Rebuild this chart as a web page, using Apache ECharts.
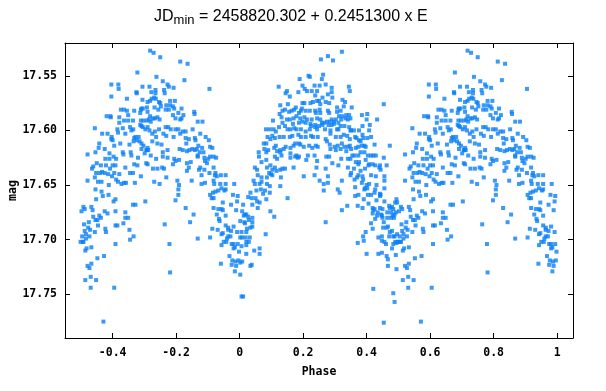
<!DOCTYPE html>
<html>
<head>
<meta charset="utf-8">
<script src="https://cdn.jsdelivr.net/npm/echarts@6/dist/echarts.min.js"></script>
<style>
html,body{margin:0;padding:0;background:#fff;}
#chart{width:606px;height:391px;}
</style>
</head>
<body>
<div id="chart"></div>
<script>
// Phase -0.5 .. 0 (shown again one cycle later, 0.5 .. 1.0, as in the reference)
const obsNegPhase = [
[-0.282,17.527],[-0.271,17.529],[-0.250,17.533],[-0.187,17.537],[-0.164,17.539],[-0.322,17.547],[-0.262,17.551],[-0.174,17.554],[-0.095,17.562],[-0.404,17.558],
[-0.382,17.558],[-0.381,17.562],[-0.404,17.569],[-0.242,17.555],[-0.227,17.558],[-0.223,17.560],[-0.208,17.561],[-0.284,17.560],[-0.306,17.560],[-0.325,17.565],
[-0.324,17.566],[-0.278,17.565],[-0.265,17.563],[-0.265,17.566],[-0.236,17.566],[-0.238,17.563],[-0.355,17.571],[-0.306,17.572],[-0.277,17.571],[-0.269,17.570],
[-0.264,17.571],[-0.254,17.574],[-0.250,17.575],[-0.290,17.574],[-0.282,17.573],[-0.219,17.573],[-0.204,17.573],[-0.248,17.578],[-0.231,17.577],[-0.219,17.577],
[-0.210,17.578],[-0.223,17.581],[-0.206,17.580],[-0.183,17.580],[-0.233,17.581],[-0.419,17.587],[-0.407,17.587],[-0.406,17.588],[-0.374,17.581],[-0.364,17.581],
[-0.355,17.582],[-0.351,17.586],[-0.332,17.582],[-0.309,17.580],[-0.311,17.581],[-0.305,17.580],[-0.292,17.579],[-0.290,17.583],[-0.313,17.584],[-0.282,17.587],
[-0.268,17.579],[-0.256,17.581],[-0.143,17.583],[-0.142,17.585],[-0.177,17.586],[-0.193,17.584],[-0.210,17.586],[-0.202,17.589],[-0.336,17.591],[-0.351,17.591],
[-0.379,17.593],[-0.379,17.588],[-0.364,17.591],[-0.311,17.591],[-0.303,17.591],[-0.292,17.591],[-0.313,17.595],[-0.309,17.596],[-0.286,17.590],[-0.280,17.592],
[-0.273,17.589],[-0.267,17.589],[-0.259,17.588],[-0.252,17.590],[-0.187,17.590],[-0.183,17.589],[-0.132,17.592],[-0.117,17.592],[-0.456,17.598],[-0.433,17.603],
[-0.416,17.603],[-0.403,17.606],[-0.404,17.608],[-0.385,17.599],[-0.383,17.602],[-0.368,17.598],[-0.360,17.603],[-0.345,17.597],[-0.341,17.600],[-0.335,17.599],
[-0.332,17.607],[-0.324,17.609],[-0.328,17.606],[-0.318,17.606],[-0.305,17.597],[-0.297,17.599],[-0.290,17.597],[-0.284,17.600],[-0.275,17.603],[-0.267,17.601],
[-0.263,17.606],[-0.254,17.599],[-0.240,17.603],[-0.233,17.597],[-0.231,17.605],[-0.225,17.597],[-0.217,17.599],[-0.208,17.606],[-0.202,17.599],[-0.193,17.599],
[-0.187,17.603],[-0.179,17.601],[-0.170,17.601],[-0.170,17.607],[-0.168,17.612],[-0.160,17.608],[-0.148,17.599],[-0.141,17.607],[-0.124,17.603],[-0.107,17.606],
[-0.097,17.609],[-0.139,17.609],[-0.130,17.614],[-0.135,17.617],[-0.118,17.616],[-0.093,17.615],[-0.086,17.616],[-0.400,17.609],[-0.395,17.614],[-0.376,17.612],
[-0.347,17.613],[-0.334,17.610],[-0.315,17.610],[-0.309,17.612],[-0.303,17.614],[-0.290,17.616],[-0.294,17.618],[-0.288,17.618],[-0.309,17.617],[-0.275,17.610],
[-0.259,17.612],[-0.246,17.613],[-0.242,17.620],[-0.227,17.618],[-0.189,17.617],[-0.179,17.618],[-0.166,17.619],[-0.158,17.618],[-0.149,17.617],[-0.141,17.618],
[-0.132,17.623],[-0.126,17.620],[-0.114,17.620],[-0.093,17.624],[-0.082,17.624],[-0.074,17.625],[-0.479,17.622],[-0.454,17.620],[-0.444,17.616],[-0.442,17.612],
[-0.425,17.617],[-0.410,17.621],[-0.410,17.626],[-0.397,17.624],[-0.389,17.626],[-0.368,17.620],[-0.366,17.622],[-0.343,17.620],[-0.341,17.623],[-0.320,17.625],
[-0.299,17.621],[-0.292,17.618],[-0.280,17.623],[-0.263,17.626],[-0.242,17.624],[-0.227,17.625],[-0.206,17.626],[-0.202,17.628],[-0.210,17.631],[-0.191,17.627],
[-0.166,17.630],[-0.154,17.629],[-0.132,17.624],[-0.111,17.625],[-0.109,17.628],[-0.099,17.626],[-0.103,17.630],[-0.461,17.633],[-0.465,17.635],[-0.450,17.630],
[-0.437,17.632],[-0.423,17.626],[-0.421,17.632],[-0.408,17.635],[-0.400,17.632],[-0.391,17.632],[-0.360,17.634],[-0.332,17.631],[-0.322,17.632],[-0.294,17.630],
[-0.290,17.631],[-0.273,17.635],[-0.259,17.635],[-0.244,17.634],[-0.238,17.635],[-0.160,17.634],[-0.124,17.634],[-0.111,17.636],[-0.082,17.634],[-0.076,17.639],
[-0.452,17.639],[-0.440,17.639],[-0.433,17.638],[-0.425,17.639],[-0.414,17.640],[-0.402,17.642],[-0.395,17.639],[-0.379,17.640],[-0.345,17.639],[-0.336,17.639],
[-0.311,17.642],[-0.231,17.643],[-0.166,17.637],[-0.128,17.636],[-0.120,17.641],[-0.095,17.639],[-0.078,17.641],[-0.072,17.642],[-0.059,17.641],[-0.044,17.641],
[-0.479,17.646],[-0.456,17.643],[-0.446,17.647],[-0.435,17.647],[-0.412,17.650],[-0.389,17.645],[-0.383,17.647],[-0.372,17.649],[-0.364,17.648],[-0.358,17.648],
[-0.330,17.648],[-0.269,17.647],[-0.252,17.649],[-0.196,17.646],[-0.191,17.650],[-0.151,17.646],[-0.120,17.649],[-0.109,17.648],[-0.082,17.646],[-0.080,17.649],
[-0.061,17.649],[-0.044,17.649],[-0.017,17.649],
[-0.454,17.654],[-0.435,17.656],[-0.452,17.663],[-0.431,17.660],[-0.413,17.659],[-0.397,17.665],[-0.391,17.663],[-0.297,17.665],[-0.336,17.668],[-0.328,17.668],
[-0.498,17.674],[-0.492,17.670],[-0.488,17.672],[-0.467,17.670],[-0.463,17.673],[-0.425,17.674],[-0.416,17.676],[-0.391,17.674],[-0.360,17.675],[-0.461,17.679],
[-0.454,17.682],[-0.448,17.682],[-0.442,17.678],[-0.437,17.680],[-0.446,17.687],[-0.490,17.686],[-0.475,17.684],[-0.471,17.691],[-0.477,17.689],[-0.423,17.690],
[-0.421,17.693],[-0.366,17.685],[-0.360,17.680],[-0.351,17.680],[-0.347,17.691],[-0.391,17.687],[-0.385,17.687],[-0.334,17.697],[-0.345,17.700],[-0.488,17.692],
[-0.484,17.695],[-0.496,17.697],[-0.473,17.697],[-0.456,17.693],[-0.501,17.702],[-0.494,17.702],[-0.492,17.702],[-0.484,17.699],[-0.482,17.708],[-0.486,17.710],
[-0.467,17.707],[-0.448,17.717],[-0.427,17.715],[-0.391,17.704],[-0.479,17.724],[-0.473,17.726],[-0.467,17.722],[-0.486,17.737],[-0.469,17.734],[-0.452,17.737],
[-0.469,17.744],[-0.395,17.744],[-0.429,17.775],[-0.236,17.686],[-0.221,17.704],[-0.219,17.730],[-0.202,17.664],[-0.193,17.654],[-0.193,17.659],[-0.170,17.671],
[-0.145,17.677],[-0.156,17.684],[-0.132,17.699],[-0.093,17.659],[-0.088,17.662],[-0.082,17.662],[-0.084,17.657],[-0.076,17.656],[-0.067,17.655],[-0.057,17.653],
[-0.048,17.655],[-0.044,17.654],[-0.082,17.671],[-0.072,17.677],[-0.065,17.681],[-0.067,17.672],[-0.057,17.672],[-0.053,17.666],[-0.053,17.673],[-0.044,17.678],
[-0.063,17.683],[-0.086,17.690],[-0.069,17.691],[-0.093,17.698],[-0.057,17.695],[-0.053,17.694],[-0.044,17.687],[-0.036,17.689],[-0.036,17.691],[-0.040,17.699],
[-0.036,17.697],[-0.029,17.697],[-0.027,17.692],[-0.019,17.688],[-0.021,17.659],[-0.006,17.660],[-0.027,17.668],[-0.008,17.665],[-0.011,17.673],[-0.042,17.702],
[-0.050,17.702],[-0.057,17.705],[-0.025,17.704],[-0.019,17.704],[-0.019,17.708],[-0.006,17.704],[-0.015,17.707],[-0.032,17.715],[-0.023,17.719],[-0.025,17.723],
[-0.013,17.720],[-0.011,17.724],[-0.015,17.729],[-0.059,17.722],[-0.002,17.711],[-0.004,17.719],[-0.008,17.693]
];
// Phase 0 .. 0.5
const obsPosPhase = [
[0.322,17.528],[0.278,17.532],[0.294,17.536],[0.256,17.535],[0.123,17.560],[0.189,17.553],[0.217,17.550],[0.221,17.551],[0.198,17.559],[0.236,17.559],
[0.252,17.559],[0.263,17.549],[0.259,17.553],[0.271,17.558],[0.290,17.561],[0.290,17.565],[0.344,17.560],[0.347,17.564],[0.145,17.566],[0.149,17.564],
[0.185,17.565],[0.205,17.562],[0.212,17.564],[0.227,17.564],[0.244,17.564],[0.238,17.568],[0.261,17.570],[0.278,17.567],[0.292,17.570],[0.324,17.572],
[0.332,17.574],[0.454,17.576],[0.128,17.577],[0.152,17.576],[0.158,17.569],[0.177,17.579],[0.198,17.575],[0.204,17.575],[0.223,17.575],[0.231,17.574],
[0.244,17.573],[0.250,17.573],[0.271,17.574],[0.254,17.576],[0.282,17.575],[0.307,17.579],[0.328,17.578],[0.353,17.579],[0.135,17.582],[0.143,17.581],
[0.156,17.583],[0.164,17.582],[0.172,17.581],[0.187,17.584],[0.196,17.580],[0.193,17.582],[0.208,17.582],[0.221,17.582],[0.238,17.582],[0.252,17.581],
[0.240,17.584],[0.254,17.584],[0.278,17.582],[0.282,17.584],[0.307,17.583],[0.318,17.582],[0.324,17.587],[0.336,17.586],[0.345,17.586],[0.349,17.589],
[0.385,17.586],[0.402,17.585],[0.126,17.585],[0.132,17.588],[0.149,17.590],[0.158,17.590],[0.170,17.589],[0.179,17.587],[0.191,17.589],[0.204,17.588],
[0.212,17.590],[0.227,17.590],[0.244,17.589],[0.254,17.590],[0.259,17.593],[0.267,17.593],[0.275,17.592],[0.284,17.592],[0.290,17.590],[0.297,17.592],
[0.303,17.590],[0.313,17.587],[0.320,17.590],[0.334,17.589],[0.341,17.590],[0.311,17.593],[0.318,17.596],[0.400,17.590],[0.433,17.590],[0.105,17.591],
[0.135,17.593],[0.168,17.594],[0.187,17.593],[0.198,17.592],[0.208,17.593],[0.223,17.594],[0.225,17.596],[0.238,17.595],[0.250,17.596],[0.261,17.595],
[0.280,17.595],[0.290,17.595],[0.297,17.594],[0.307,17.599],[0.330,17.596],[0.345,17.597],[0.349,17.600],[0.387,17.596],[0.410,17.595],[0.083,17.599],
[0.095,17.599],[0.107,17.599],[0.114,17.601],[0.124,17.597],[0.143,17.596],[0.151,17.599],[0.160,17.599],[0.172,17.598],[0.179,17.599],[0.193,17.599],
[0.208,17.601],[0.221,17.599],[0.238,17.597],[0.244,17.599],[0.269,17.599],[0.286,17.600],[0.311,17.599],[0.351,17.600],[0.360,17.600],[0.376,17.600],
[0.387,17.604],[0.408,17.600],[0.103,17.605],[0.088,17.606],[0.097,17.608],[0.111,17.607],[0.126,17.606],[0.139,17.606],[0.158,17.606],[0.166,17.605],
[0.185,17.604],[0.193,17.606],[0.208,17.606],[0.225,17.605],[0.231,17.606],[0.246,17.606],[0.271,17.608],[0.286,17.603],[0.303,17.606],[0.318,17.606],
[0.328,17.604],[0.339,17.605],[0.347,17.608],[0.364,17.606],[0.368,17.607],[0.376,17.609],[0.389,17.607],[0.402,17.607],[0.414,17.606],[0.076,17.612],
[0.084,17.612],[0.109,17.616],[0.114,17.614],[0.128,17.618],[0.139,17.617],[0.145,17.615],[0.160,17.616],[0.170,17.614],[0.175,17.612],[0.187,17.612],
[0.191,17.613],[0.202,17.615],[0.219,17.614],[0.229,17.616],[0.240,17.614],[0.246,17.615],[0.275,17.610],[0.284,17.613],[0.299,17.615],[0.309,17.614],
[0.322,17.612],[0.330,17.615],[0.341,17.615],[0.347,17.614],[0.351,17.617],[0.366,17.616],[0.374,17.615],[0.381,17.610],[0.385,17.614],[0.393,17.614],
[0.397,17.615],[0.425,17.613],[0.473,17.614],[0.060,17.620],[0.078,17.617],[0.084,17.620],[0.090,17.618],[0.118,17.619],[0.128,17.620],[0.132,17.623],
[0.160,17.621],[0.179,17.623],[0.187,17.624],[0.215,17.623],[0.236,17.623],[0.273,17.624],[0.286,17.617],[0.303,17.618],[0.318,17.617],[0.336,17.619],
[0.355,17.623],[0.362,17.623],[0.374,17.623],[0.381,17.620],[0.393,17.620],[0.404,17.623],[0.414,17.623],[0.421,17.623],[0.429,17.623],[0.061,17.624],
[0.069,17.629],[0.084,17.627],[0.111,17.624],[0.118,17.626],[0.160,17.625],[0.175,17.624],[0.183,17.625],[0.210,17.627],[0.244,17.628],[0.282,17.624],
[0.292,17.630],[0.320,17.626],[0.341,17.626],[0.349,17.626],[0.366,17.629],[0.376,17.629],[0.397,17.627],[0.408,17.631],[0.419,17.631],[0.427,17.632],
[0.442,17.632],[0.454,17.625],[0.463,17.632],[0.048,17.634],[0.055,17.636],[0.086,17.634],[0.097,17.632],[0.103,17.636],[0.111,17.634],[0.116,17.637],
[0.128,17.636],[0.135,17.635],[0.143,17.635],[0.170,17.634],[0.242,17.634],[0.271,17.635],[0.311,17.632],[0.341,17.634],[0.351,17.639],[0.360,17.635],
[0.374,17.631],[0.381,17.637],[0.395,17.635],[0.406,17.632],[0.440,17.634],[0.444,17.636],[0.057,17.641],[0.069,17.643],[0.086,17.643],[0.093,17.639],
[0.099,17.640],[0.103,17.641],[0.130,17.643],[0.202,17.642],[0.236,17.641],[0.278,17.642],[0.349,17.641],[0.362,17.645],[0.370,17.643],[0.374,17.641],
[0.387,17.642],[0.389,17.645],[0.414,17.641],[0.429,17.642],[0.456,17.642],[0.044,17.646],[0.048,17.649],[0.063,17.649],[0.069,17.647],[0.086,17.649],
[0.252,17.646],[0.265,17.649],[0.278,17.648],[0.322,17.646],[0.385,17.648],[0.400,17.650],[0.408,17.649],[0.431,17.650],[0.456,17.646],
[0.034,17.657],[0.053,17.655],[0.067,17.654],[0.074,17.658],[0.080,17.655],[0.095,17.657],[0.095,17.651],[0.128,17.651],[0.027,17.661],[0.038,17.662],
[0.050,17.662],[0.055,17.665],[0.063,17.666],[0.040,17.668],[0.057,17.671],[0.084,17.663],[0.151,17.662],[0.011,17.668],[0.008,17.674],[0.017,17.677],
[0.013,17.678],[0.021,17.677],[0.029,17.682],[0.027,17.679],[0.040,17.680],[0.097,17.674],[0.109,17.679],[0.017,17.685],[0.034,17.689],[0.040,17.688],
[0.040,17.684],[0.015,17.684],[0.002,17.683],[0.023,17.690],[0.021,17.693],[0.006,17.693],[0.002,17.698],[0.008,17.698],[0.019,17.698],[0.032,17.698],
[0.021,17.702],[0.029,17.702],[0.006,17.706],[0.021,17.705],[0.082,17.695],[0.046,17.710],[0.063,17.708],[0.063,17.713],[0.021,17.713],[0.008,17.720],
[0.002,17.721],[0.038,17.723],[0.034,17.724],[0.002,17.732],[0.006,17.752],[0.011,17.752],[0.271,17.684],[0.265,17.655],[0.309,17.654],[0.315,17.657],
[0.322,17.673],[0.339,17.669],[0.364,17.652],[0.364,17.660],[0.372,17.669],[0.374,17.659],[0.387,17.671],[0.391,17.663],[0.393,17.654],[0.395,17.653],
[0.406,17.667],[0.402,17.653],[0.404,17.659],[0.414,17.659],[0.419,17.671],[0.419,17.676],[0.421,17.673],[0.425,17.672],[0.425,17.657],[0.427,17.654],
[0.427,17.681],[0.431,17.664],[0.433,17.678],[0.435,17.675],[0.442,17.671],[0.442,17.658],[0.442,17.660],[0.444,17.659],[0.446,17.677],[0.448,17.678],
[0.450,17.680],[0.450,17.672],[0.454,17.684],[0.456,17.653],[0.456,17.665],[0.465,17.675],[0.465,17.680],[0.471,17.669],[0.473,17.671],[0.477,17.675],
[0.477,17.680],[0.480,17.670],[0.482,17.678],[0.484,17.672],[0.486,17.680],[0.488,17.677],[0.490,17.666],[0.492,17.675],[0.494,17.663],[0.496,17.666],
[0.419,17.690],[0.414,17.685],[0.397,17.693],[0.389,17.697],[0.391,17.701],[0.372,17.703],[0.437,17.698],[0.448,17.697],[0.448,17.701],[0.452,17.689],
[0.456,17.702],[0.461,17.704],[0.463,17.689],[0.467,17.688],[0.471,17.697],[0.473,17.693],[0.480,17.692],[0.484,17.697],[0.484,17.704],[0.488,17.697],
[0.490,17.702],[0.494,17.703],[0.496,17.695],[0.498,17.702],[0.400,17.713],[0.437,17.713],[0.448,17.712],[0.463,17.715],[0.467,17.718],[0.467,17.724],
[0.480,17.708],[0.492,17.714],[0.494,17.727],[0.421,17.745],[0.484,17.749],[0.488,17.757],[0.454,17.776]
];

const xTickValues = [-0.4, -0.2, 0, 0.2, 0.4, 0.6, 0.8, 1];
const xTickLabels = ['-0.4', '-0.2', '0', '0.2', '0.4', '0.6', '0.8', '1'];
const yTickValues = [17.55, 17.60, 17.65, 17.70, 17.75];
const yTickLabels = ['17.55', '17.60', '17.65', '17.70', '17.75'];
const xRange = [-0.55, 1.05];
const yRange = [17.52, 17.79];
const titleParts = ['JD', 'min', ' = 2458820.302 + 0.2451300 x E'];
const xName = 'Phase';
const yName = 'mag';

// Folded light curve is drawn over 1.5 cycles: phases < 0 are repeated one cycle later.
const points = [];
obsNegPhase.forEach(p => { points.push([p[0], p[1]]); points.push([p[0] + 1, p[1]]); });
obsPosPhase.forEach(p => points.push([p[0], p[1]]));

const tickFont = {fontFamily: 'DejaVu Sans Mono', fontWeight: 'bold', fontSize: 11.5, color: '#000'};
const lineStyle = {color: '#000', width: 1};

function xAxisBase(pos, showLabel) {
  return {
    type: 'value', position: pos, min: xRange[0], max: xRange[1],
    axisLine: {show: true, onZero: false, lineStyle: lineStyle},
    axisTick: {show: true, inside: true, length: 5, customValues: xTickValues, lineStyle: lineStyle},
    axisLabel: Object.assign({show: showLabel, margin: 9, customValues: xTickValues,
      formatter: v => { const i = xTickValues.findIndex(t => Math.abs(t - v) < 1e-9); return i >= 0 ? xTickLabels[i] : ''; }}, tickFont),
    splitLine: {show: false}
  };
}
function yAxisBase(pos, showLabel) {
  return {
    type: 'value', position: pos, inverse: true, min: yRange[0], max: yRange[1],
    axisLine: {show: true, onZero: false, lineStyle: lineStyle},
    axisTick: {show: true, inside: true, length: 5, customValues: yTickValues, lineStyle: lineStyle},
    axisLabel: Object.assign({show: showLabel, margin: 8, customValues: yTickValues,
      formatter: v => { const i = yTickValues.findIndex(t => Math.abs(t - v) < 1e-9); return i >= 0 ? yTickLabels[i] : ''; }}, tickFont),
    splitLine: {show: false}
  };
}

const xMain = xAxisBase('bottom', true);
xMain.name = xName; xMain.nameLocation = 'middle'; xMain.nameGap = 28; xMain.nameMoveOverlap = false;
xMain.nameTextStyle = tickFont;
const yMain = yAxisBase('left', true);
yMain.name = yName; yMain.nameLocation = 'middle'; yMain.nameGap = 46; yMain.nameRotate = 90; yMain.nameMoveOverlap = false;
yMain.nameTextStyle = tickFont;

const chart = echarts.init(document.getElementById('chart'), null, {renderer: 'canvas'});
chart.setOption({
  animation: false,
  backgroundColor: '#fff',
  grid: {left: 65, right: 33, top: 43, bottom: 53, containLabel: false, outerBoundsMode: 'none'},
  xAxis: [xMain, xAxisBase('top', false)],
  yAxis: [yMain, yAxisBase('right', false)],
  graphic: [{
    type: 'text', x: 154, y: 7, silent: true,
    style: {
      text: '{a|' + titleParts[0] + '}{b|' + titleParts[1] + '}{a|' + titleParts[2] + '}',
      align: 'left', verticalAlign: 'top',
      rich: {
        a: {fontFamily: 'Liberation Sans', fontSize: 16, lineHeight: 20, verticalAlign: 'middle', fill: '#000'},
        b: {fontFamily: 'Liberation Sans', fontSize: 13, lineHeight: 20, verticalAlign: 'middle', padding: [6, 0, 0, 0], fill: '#000'}
      }
    }
  }],
  series: [{
    type: 'scatter', xAxisIndex: 0, yAxisIndex: 0,
    symbol: 'rect', symbolSize: 4,
    itemStyle: {color: '#0a80f5'},
    data: points
  }]
});
</script>
</body>
</html>
